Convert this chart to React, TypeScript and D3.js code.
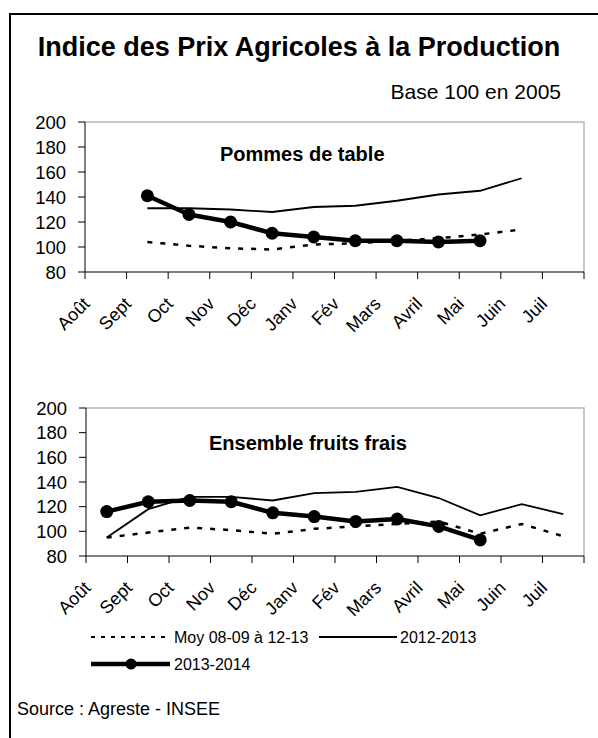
import React from "react";
import * as d3 from "d3";

const months = ["Août", "Sept", "Oct", "Nov", "Déc", "Janv", "Fév", "Mars", "Avril", "Mai", "Juin", "Juil"];
const yTicks = [80, 100, 120, 140, 160, 180, 200];

type V = number | null;
const pommesMoy: V[] = [null, 104, 101, 99, 98, 102, 103, 105, 107, 110, 114, null];
const pommes1213: V[] = [null, 131, 131, 130, 128, 132, 133, 137, 142, 145, 155, null];
const pommes1314: V[] = [null, 141, 126, 120, 111, 108, 105, 105, 104, 105, null, null];

const fruitsMoy: V[] = [95, 99, 103, 101, 98, 102, 104, 106, 108, 98, 106, 96];
const fruits1213: V[] = [95, 118, 128, 128, 125, 131, 132, 136, 127, 113, 122, 114];
const fruits1314: V[] = [116, 124, 125, 124, 115, 112, 108, 110, 104, 93, null, null];

const seriesNames = ["Moy 08-09 à 12-13", "2012-2013", "2013-2014"];

const FONT = "Arial, 'Liberation Sans', sans-serif";

function Panel({ top, bottom, left, right, title, titleX, titleY, moy, s1213, s1314 }: any) {
  const x = d3.scaleBand<string>().domain(months).range([left, right]);
  const y = d3.scaleLinear().domain([80, 200]).range([bottom, top]);
  const bw = x.bandwidth();
  const cx = (i: number) => (x(months[i]) as number) + bw / 2;
  const line = d3
    .line<V>()
    .defined((d) => d !== null)
    .x((_, i) => cx(i))
    .y((d) => y(d as number));
  return (
    <g>
      <path d={`M${left},${top}H${right}V${bottom}`} fill="none" stroke="#b8b8b8" strokeWidth={1.5} />
      <line x1={left} x2={left} y1={top} y2={bottom} stroke="#000" strokeWidth={1} />
      <line x1={left} x2={right} y1={bottom} y2={bottom} stroke="#000" strokeWidth={1} />
      {yTicks.map((t) => (
        <g key={t}>
          <line x1={left - 7} x2={left} y1={y(t)} y2={y(t)} stroke="#000" />
          <text x={left - 19} y={y(t) + 6.5} textAnchor="end" fontSize={18.5} fontFamily={FONT}>
            {t}
          </text>
        </g>
      ))}
      {d3.range(months.length + 1).map((i) => {
        const xx = left + i * bw;
        return <line key={i} x1={xx} x2={xx} y1={bottom} y2={bottom + 7} stroke="#000" />;
      })}
      {months.map((m, i) => (
        <text
          key={m}
          transform={`translate(${cx(i) - 15},${bottom + 33}) rotate(-45)`}
          textAnchor="end"
          fontSize={18}
          fontFamily={FONT}
        >
          {m}
        </text>
      ))}
      <text x={titleX} y={titleY} fontSize={20} fontWeight="bold" fontFamily={FONT}>
        {title}
      </text>
      <path d={line(moy) || ""} fill="none" stroke="#000" strokeWidth={2.5} strokeDasharray="5,8" />
      <path d={line(s1213) || ""} fill="none" stroke="#000" strokeWidth={1.8} />
      <path d={line(s1314) || ""} fill="none" stroke="#000" strokeWidth={4.5} strokeLinejoin="round" />
      {s1314.map((d: V, i: number) =>
        d === null ? null : <circle key={i} cx={cx(i)} cy={y(d)} r={6.5} fill="#000" />
      )}
    </g>
  );
}

export default function App() {
  return (
    <svg
      width={598}
      height={738}
      style={{ position: "absolute", left: 0, top: 0, background: "#fff" }}
      fontFamily={FONT}
    >
      <rect x={0} y={0} width={598} height={738} fill="#fff" />
      <path d="M10,740V14H600" fill="none" stroke="#000" strokeWidth={2} />
      <text x={299} y={56} textAnchor="middle" fontSize={27} fontWeight="bold">
        Indice des Prix Agricoles à la Production
      </text>
      <text x={561} y={99} fontSize={21} textAnchor="end">
        Base 100 en 2005
      </text>
      <Panel
        top={122}
        bottom={272}
        left={85}
        right={584}
        title="Pommes de table"
        titleX={220}
        titleY={161}
        moy={pommesMoy}
        s1213={pommes1213}
        s1314={pommes1314}
      />
      <Panel
        top={408}
        bottom={556}
        left={86}
        right={584}
        title="Ensemble fruits frais"
        titleX={209}
        titleY={450}
        moy={fruitsMoy}
        s1213={fruitsMoy === fruitsMoy ? fruits1213 : fruits1213}
        s1314={fruits1314}
      />
      <g fontSize={16}>
        <line x1={91} x2={170} y1={637} y2={637} stroke="#000" strokeWidth={2} strokeDasharray="4,6" />
        <text x={174} y={643}>{seriesNames[0]}</text>
        <line x1={319} x2={397} y1={637} y2={637} stroke="#000" strokeWidth={2} />
        <text x={400} y={643}>{seriesNames[1]}</text>
        <line x1={91} x2={170} y1={664} y2={664} stroke="#000" strokeWidth={4.5} />
        <circle cx={131} cy={664} r={5.5} fill="#000" />
        <text x={174} y={670}>{seriesNames[2]}</text>
      </g>
      <text x={17} y={715} fontSize={18}>
        Source : Agreste - INSEE
      </text>
    </svg>
  );
}
